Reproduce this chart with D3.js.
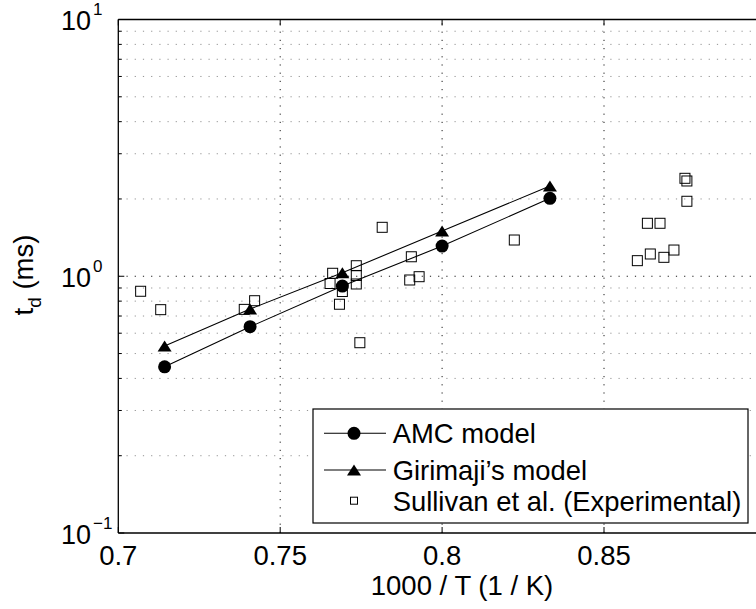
<!DOCTYPE html>
<html>
<head>
<meta charset="utf-8">
<script src="https://cdn.jsdelivr.net/npm/d3@7"></script>
<style>
  html, body { margin: 0; padding: 0; background: #fff; overflow: hidden; }
  text { font-family: "Liberation Sans", Arial, sans-serif; fill: #000; }
</style>
</head>
<body>
<div id="root"></div>
<script>
// data
const amcX = [0.7143, 0.7407, 0.7692, 0.8, 0.8333];
const amcY = [0.444, 0.636, 0.916, 1.311, 2.012];
const giriX = [0.7143, 0.7407, 0.7692, 0.8, 0.8333];
const giriY = [0.535, 0.745, 1.032, 1.5, 2.246];
const sullX = [0.7069, 0.7131, 0.7389, 0.7421, 0.7662, 0.7654, 0.7692, 0.7683, 0.7735, 0.7735,
  0.7735, 0.7746, 0.7815, 0.7905, 0.79, 0.7929, 0.8223, 0.8603, 0.8643, 0.8685, 0.8716,
  0.8634, 0.8673, 0.875, 0.8756, 0.8756];
const sullY = [0.874, 0.741, 0.743, 0.803, 1.027, 0.937, 0.872, 0.778, 1.099, 1.007,
  0.933, 0.551, 1.551, 1.191, 0.967, 0.996, 1.384, 1.15, 1.221, 1.185, 1.265,
  1.608, 1.608, 2.407, 2.35, 1.959];
const xTicks = [0.7, 0.75, 0.8, 0.85];
const yTicks = [0.1, 1, 10];
const yExps = ["\u22121", "0", "1"];
const legendLabels = ["AMC model", "Girimaji\u2019s model", "Sullivan et al. (Experimental)"];

const width = 756;
const height = 609;
const fontSize = 27.5;
const margin = { top: 19.5, left: 118.3, bottom: 533 };

const svg = d3.select("#root")
  .append("svg")
  .attr("width", width)
  .attr("height", height)
  .attr("viewBox", `0 0 ${width} ${height}`);

const xScale = d3.scaleLinear().domain([0.7, 0.9]).range([margin.left, margin.left + 0.2 * 3238]);
const yScale = d3.scaleLog().domain([0.1, 10]).range([margin.bottom, margin.top]);
const x0 = xScale.range()[0], x1 = xScale.range()[1];

// minor grid (log decades)
const minor = [];
[0.1, 1].forEach((dec) => { for (let k = 2; k <= 9; k++) minor.push(dec * k); });

svg.append("g")
  .selectAll("line")
  .data(minor)
  .join("line")
  .attr("x1", x0).attr("x2", x1)
  .attr("y1", (d) => yScale(d)).attr("y2", (d) => yScale(d))
  .attr("stroke", "#888")
  .attr("stroke-width", 0.9)
  .attr("stroke-dasharray", "1.2,7");

svg.append("g")
  .selectAll("line")
  .data([1])
  .join("line")
  .attr("x1", x0).attr("x2", x1)
  .attr("y1", (d) => yScale(d)).attr("y2", (d) => yScale(d))
  .attr("stroke", "#000")
  .attr("stroke-width", 0.9)
  .attr("stroke-dasharray", "1.2,7");

svg.append("g")
  .selectAll("line")
  .data(xTicks.slice(1))
  .join("line")
  .attr("x1", (d) => xScale(d)).attr("x2", (d) => xScale(d))
  .attr("y1", margin.bottom).attr("y2", margin.top)
  .attr("stroke", "#000")
  .attr("stroke-width", 0.9)
  .attr("stroke-dasharray", "1.2,7");

// ticks inside the box
const tickG = svg.append("g").attr("stroke", "#000").attr("stroke-width", 1);
xTicks.forEach((t) => {
  tickG.append("line").attr("x1", xScale(t)).attr("x2", xScale(t))
    .attr("y1", margin.bottom).attr("y2", margin.bottom - 6);
  tickG.append("line").attr("x1", xScale(t)).attr("x2", xScale(t))
    .attr("y1", margin.top).attr("y2", margin.top + 6);
});
yTicks.forEach((t) => {
  tickG.append("line").attr("x1", x0).attr("x2", x0 + 6)
    .attr("y1", yScale(t)).attr("y2", yScale(t));
});
minor.forEach((t) => {
  tickG.append("line").attr("x1", x0).attr("x2", x0 + 3.5)
    .attr("y1", yScale(t)).attr("y2", yScale(t));
});

// box
svg.append("line").attr("x1", x0).attr("x2", x1).attr("y1", margin.bottom).attr("y2", margin.bottom)
  .attr("stroke", "#000").attr("stroke-width", 1.3);
svg.append("line").attr("x1", x0).attr("x2", x1).attr("y1", margin.top).attr("y2", margin.top)
  .attr("stroke", "#000").attr("stroke-width", 1.3);
svg.append("line").attr("x1", x0).attr("x2", x0).attr("y1", margin.top).attr("y2", margin.bottom)
  .attr("stroke", "#000").attr("stroke-width", 1.3);

// tick labels
svg.append("g")
  .selectAll("text")
  .data(xTicks)
  .join("text")
  .attr("x", (d) => xScale(d))
  .attr("y", 565)
  .attr("text-anchor", "middle")
  .attr("font-size", fontSize)
  .text((d) => d);

const yLab = svg.append("g")
  .selectAll("text")
  .data(yTicks)
  .join("text")
  .attr("x", 61)
  .attr("y", (d) => yScale(d) + 10.5)
  .attr("font-size", 27);
yLab.append("tspan").text("10");
yLab.append("tspan")
  .attr("dx", 2)
  .attr("dy", -15)
  .attr("font-size", 17)
  .text((d, i) => yExps[i]);

// axis titles
svg.append("text")
  .attr("x", 462)
  .attr("y", 595)
  .attr("text-anchor", "middle")
  .attr("font-size", fontSize)
  .text("1000 / T (1 / K)");

const yTitle = svg.append("text")
  .attr("transform", "translate(33, 275) rotate(-90)")
  .attr("text-anchor", "middle")
  .attr("font-size", fontSize);
yTitle.append("tspan").text("t");
yTitle.append("tspan").attr("dy", 8).attr("font-size", 19).text("d");
yTitle.append("tspan").attr("dy", -8).text(" (ms)");

// model lines
const line = d3.line().x((d) => xScale(d[0])).y((d) => yScale(d[1]));
const amc = amcX.map((x, i) => [x, amcY[i]]);
const giri = giriX.map((x, i) => [x, giriY[i]]);
const sull = sullX.map((x, i) => [x, sullY[i]]);

[amc, giri].forEach((s) => {
  svg.append("path").datum(s).attr("d", line)
    .attr("fill", "none").attr("stroke", "#000").attr("stroke-width", 1.1);
});

const triPath = (w, h) => `M0,${-h / 2}L${w / 2},${h / 2}L${-w / 2},${h / 2}Z`;

svg.append("g")
  .selectAll("circle")
  .data(amc)
  .join("circle")
  .attr("cx", (d) => xScale(d[0]))
  .attr("cy", (d) => yScale(d[1]))
  .attr("r", 6.5)
  .attr("fill", "#000");

svg.append("g")
  .selectAll("path")
  .data(giri)
  .join("path")
  .attr("transform", (d) => `translate(${xScale(d[0])},${yScale(d[1])})`)
  .attr("d", triPath(14, 11))
  .attr("fill", "#000");

svg.append("g")
  .selectAll("rect")
  .data(sull)
  .join("rect")
  .attr("x", (d) => xScale(d[0]) - 5)
  .attr("y", (d) => yScale(d[1]) - 5)
  .attr("width", 10)
  .attr("height", 10)
  .attr("fill", "none")
  .attr("stroke", "#000")
  .attr("stroke-width", 1);

// legend
const legend = svg.append("g");
legend.append("rect")
  .attr("x", 313).attr("y", 409).attr("width", 435).attr("height", 114)
  .attr("fill", "#fff").attr("stroke", "#000").attr("stroke-width", 1.2);
const rowY = [433.3, 470, 500.7];
legendLabels.forEach((lab, i) => {
  const cy = rowY[i];
  if (i < 2) {
    legend.append("line").attr("x1", 324).attr("x2", 386).attr("y1", cy).attr("y2", cy)
      .attr("stroke", "#000").attr("stroke-width", 1.1);
  }
  if (i === 0) {
    legend.append("circle").attr("cx", 354).attr("cy", cy).attr("r", 6.5).attr("fill", "#000");
  } else if (i === 1) {
    legend.append("path").attr("transform", `translate(354,${cy})`).attr("d", triPath(14, 11)).attr("fill", "#000");
  } else {
    legend.append("rect").attr("x", 350.5).attr("y", cy - 3.5).attr("width", 7).attr("height", 7)
      .attr("fill", "none").attr("stroke", "#000").attr("stroke-width", 1);
  }
  legend.append("text")
    .attr("x", 392.7)
    .attr("y", cy + 10)
    .attr("font-size", 27.4)
    .text(lab);
});
</script>
</body>
</html>
